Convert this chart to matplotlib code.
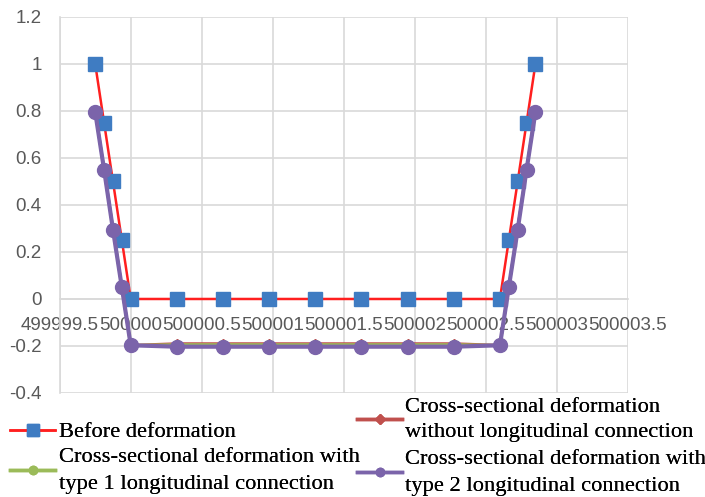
import matplotlib
matplotlib.use("Agg")
import matplotlib.pyplot as plt
from matplotlib.lines import Line2D
from matplotlib.ticker import FixedLocator, FuncFormatter

# x positions of the section points
x_pts = [499999.75, 499999.8125, 499999.875, 499999.9375, 500000.0,
         500000.325, 500000.65, 500000.975, 500001.3, 500001.625,
         500001.95, 500002.275, 500002.6,
         500002.6625, 500002.725, 500002.7875, 500002.85]

y_before = [1.0, 0.75, 0.5, 0.25, 0.0,
            0.0, 0.0, 0.0, 0.0, 0.0, 0.0, 0.0, 0.0,
            0.25, 0.5, 0.75, 1.0]
y_without = [0.8, 0.55, 0.3, 0.05, -0.197,
             -0.19, -0.19, -0.19, -0.19, -0.19, -0.19, -0.19, -0.197,
             0.05, 0.3, 0.55, 0.8]
y_type1 = [0.8, 0.55, 0.3, 0.05, -0.197,
           -0.194, -0.194, -0.194, -0.194, -0.194, -0.194, -0.194, -0.197,
           0.05, 0.3, 0.55, 0.8]
y_type2 = [0.795, 0.55, 0.295, 0.05, -0.197,
           -0.203, -0.203, -0.203, -0.203, -0.203, -0.203, -0.203, -0.197,
           0.05, 0.295, 0.55, 0.795]

x_ticks = [499999.5, 500000, 500000.5, 500001, 500001.5,
           500002, 500002.5, 500003, 500003.5]
y_ticks = [-0.4, -0.2, 0, 0.2, 0.4, 0.6, 0.8, 1, 1.2]

labels = ["Before deformation",
          "Cross-sectional deformation\nwithout longitudinal connection",
          "Cross-sectional deformation with\ntype 1 longitudinal connection",
          "Cross-sectional deformation with\ntype 2 longitudinal connection"]

# colours
c_red = "#FF1F1F"
c_blue = "#3F7CC2"
c_dred = "#C0504D"
c_green = "#9BBB59"
c_purple = "#7B64AA"
c_grid = "#D9D9D9"
c_txt = "#595959"


def fmt(v, p=None):
    if abs(v) < 1e-9:
        return "0"
    return ("%.1f" % v).rstrip("0").rstrip(".")


fig = plt.figure(figsize=(7.05, 4.97), dpi=100)
ax = fig.add_axes([0.0847, 0.2093, 0.8057, 0.7565])

ax.plot(x_pts, y_before, color=c_red, lw=1.8, marker="s", ms=9.5,
        mfc=c_blue, mec=c_blue, zorder=3)
ax.plot(x_pts, y_without, color=c_dred, lw=2.0, marker="D", ms=5,
        mfc=c_dred, mec=c_dred, zorder=4)
ax.plot(x_pts, y_type1, color=c_green, lw=2.0, marker="o", ms=7,
        mfc=c_green, mec=c_green, zorder=5)
ax.plot(x_pts, y_type2, color=c_purple, lw=3.0, marker="o", ms=10,
        mfc=c_purple, mec=c_purple, zorder=6)

ax.set_xlim(499999.5, 500003.5)
ax.set_ylim(-0.4, 1.2)
ax.xaxis.set_major_locator(FixedLocator(x_ticks))
ax.yaxis.set_major_locator(FixedLocator(y_ticks))
ax.xaxis.set_major_formatter(FuncFormatter(fmt))
ax.yaxis.set_major_formatter(FuncFormatter(fmt))

ax.grid(True, color=c_grid, lw=1.2)
ax.set_axisbelow(True)
for s in ["top", "right"]:
    ax.spines[s].set_visible(False)
ax.spines["bottom"].set_position(("data", 0))
ax.spines["bottom"].set_color(c_grid)
ax.spines["left"].set_color(c_grid)
ax.spines["bottom"].set_linewidth(1.2)
ax.spines["left"].set_linewidth(1.2)

ax.tick_params(length=0, labelsize=13.5, labelcolor=c_txt)
ax.tick_params(axis="y", pad=13)
ax.tick_params(axis="x", pad=13)
for t in ax.get_xticklabels() + ax.get_yticklabels():
    t.set_fontfamily("Liberation Sans")

# legend, one entry at a time to follow the original layout
handles = [
    Line2D([], [], color=c_red, lw=1.8, marker="s", ms=8, mfc=c_blue, mec=c_blue),
    Line2D([], [], color=c_dred, lw=2.5, marker="D", ms=5, mfc=c_dred, mec=c_dred),
    Line2D([], [], color=c_green, lw=2.5, marker="o", ms=6, mfc=c_green, mec=c_green),
    Line2D([], [], color=c_purple, lw=2.5, marker="o", ms=6, mfc=c_purple, mec=c_purple),
]
anchors = [(0.008, 1 - 432 / 497), (0.5, 1 - 420 / 497),
           (0.008, 1 - 471 / 497), (0.5, 1 - 473 / 497)]
for h, lab, anc in zip(handles, labels, anchors):
    lg = fig.legend([h], [lab], loc="center left", bbox_to_anchor=anc,
                    frameon=False, handlelength=2.0, handletextpad=0.15,
                    borderpad=0.2, borderaxespad=0.0,
                    prop={"family": "Liberation Serif", "size": 16.2})
    for t in lg.get_texts():
        t.set_linespacing(1.5)
    fig.add_artist(lg)

fig.savefig("out.png", dpi=100)
